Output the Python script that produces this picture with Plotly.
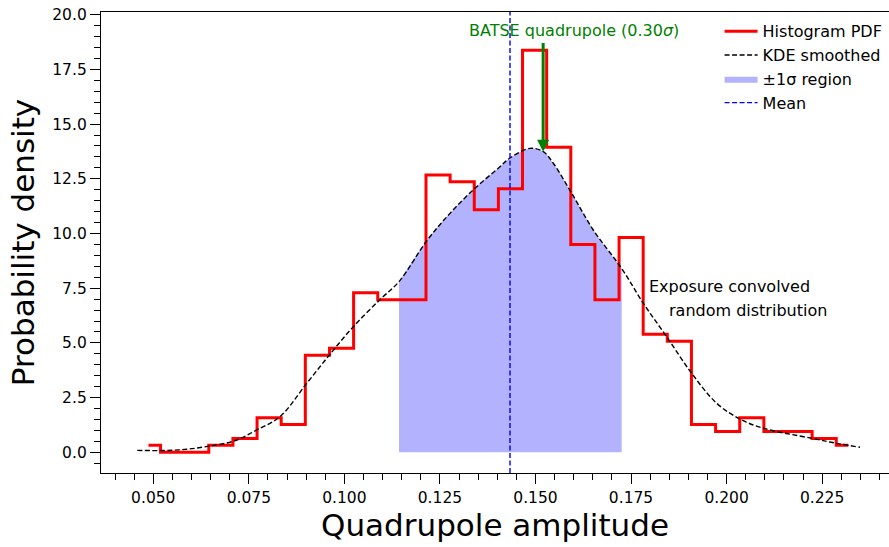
import plotly.graph_objects as go

# ---------------- data ----------------
hist_centers = [0.04874, 0.05505, 0.06137, 0.06768, 0.07400, 0.08031, 0.08662,
                0.09294, 0.09925, 0.10557, 0.11188, 0.11819, 0.12451, 0.13082,
                0.13714, 0.14345, 0.14976, 0.15608, 0.16239, 0.16871, 0.17502,
                0.18133, 0.18765, 0.19396, 0.20028, 0.20659, 0.21290, 0.21922,
                0.22553, 0.23185]
hist_density = [0.32, 0.0, 0.0, 0.32, 0.63, 1.58, 1.27, 4.44, 4.75, 7.29, 6.97,
                6.97, 12.67, 12.36, 11.09, 12.04, 18.37, 13.94, 9.50, 6.97, 9.82,
                5.39, 5.07, 1.27, 0.95, 1.58, 0.95, 0.95, 0.63, 0.32]

kde_x = [0.04581, 0.05262, 0.05874, 0.06484, 0.07119, 0.07705, 0.08315, 0.09014,
         0.09623, 0.10233, 0.10932, 0.11429, 0.12153, 0.12763, 0.13417, 0.14027,
         0.14333, 0.14856, 0.15204, 0.15466, 0.15947, 0.16512, 0.17255, 0.17821,
         0.18433, 0.19087, 0.19741, 0.20351, 0.20960, 0.22227, 0.22881, 0.23490]
kde_y = [0.09, 0.08, 0.14, 0.29, 0.52, 1.02, 1.63, 3.15, 4.48, 5.74, 6.98, 7.80,
         9.66, 10.92, 12.07, 12.98, 13.45, 13.89, 13.74, 13.21, 11.84, 10.16, 8.40,
         6.81, 5.28, 3.61, 2.24, 1.52, 1.10, 0.64, 0.41, 0.23]

mean_value = 0.14333
sigma_lo = 0.11429
sigma_hi = 0.17255

batse_x = 0.152
batse_tip_y = 13.74
batse_tail_y = 18.77

x_ticks = [0.050, 0.075, 0.100, 0.125, 0.150, 0.175, 0.200, 0.225]
y_ticks = [0.0, 2.5, 5.0, 7.5, 10.0, 12.5, 15.0, 17.5, 20.0]
X_RANGE = [0.03632, 0.24249]
Y_RANGE = [-0.946, 20.123]

FONT = "DejaVu Sans"

fig = go.Figure()

fill_x = [x for x in kde_x if sigma_lo <= x <= sigma_hi]
fill_y = [y for x, y in zip(kde_x, kde_y) if sigma_lo <= x <= sigma_hi]
fig.add_trace(go.Scatter(
    x=fill_x, y=fill_y, mode="lines", line_shape="spline",
    line=dict(width=0, color="rgba(0,0,255,0.3)"), fill="tozeroy",
    fillcolor="rgba(0,0,255,0.3)", name="±1σ region", legendrank=3))

fig.add_trace(go.Scatter(
    x=hist_centers, y=hist_density, mode="lines", line_shape="hvh",
    line=dict(color="#ff0000", width=3), name="Histogram PDF", legendrank=1))

fig.add_trace(go.Scatter(
    x=kde_x, y=kde_y, mode="lines", line_shape="spline",
    line=dict(color="black", width=1.4, dash="5px,2.5px"), name="KDE smoothed",
    legendrank=2))

fig.add_trace(go.Scatter(
    x=[mean_value, mean_value], y=Y_RANGE, mode="lines",
    line=dict(color="#0000ff", width=1.4, dash="5px,2.5px"), name="Mean",
    legendrank=4, cliponaxis=True))

# arrow
fig.add_annotation(x=batse_x, y=batse_tip_y, ax=batse_x, ay=batse_tail_y,
                   axref="x", ayref="y", xref="x", yref="y", text="",
                   showarrow=True, arrowhead=2, arrowsize=0.8, arrowwidth=3,
                   arrowcolor="green", standoff=0, startstandoff=0)
fig.add_annotation(x=0.1600, y=19.3, xref="x", yref="y",
                   text="BATSE quadrupole (0.30<i>σ</i>)", showarrow=False,
                   font=dict(family=FONT, size=16, color="green"))
fig.add_annotation(x=0.1793, y=7.58, xref="x", yref="y", xanchor="left",
                   text="Exposure convolved", showarrow=False,
                   font=dict(family=FONT, size=16, color="black"))
fig.add_annotation(x=0.1843, y=6.48, xref="x", yref="y", xanchor="left",
                   text="random distribution", showarrow=False,
                   font=dict(family=FONT, size=16, color="black"))

fig.update_layout(
    width=889, height=547,
    margin=dict(l=101, r=0, t=12, b=74),
    plot_bgcolor="white", paper_bgcolor="white",
    font=dict(family=FONT, color="black"),
    showlegend=True,
    legend=dict(x=0.785, y=0.995, xanchor="left", yanchor="top",
                font=dict(family=FONT, size=16), bgcolor="rgba(0,0,0,0)",
                traceorder="normal", itemwidth=33),
    xaxis=dict(range=X_RANGE, tickvals=x_ticks, tickformat=".3f",
               ticks="outside", ticklen=10, tickwidth=1.3, tickcolor="black",
               showline=True, linecolor="black", linewidth=1.3, mirror=True,
               showgrid=False, zeroline=False,
               tickfont=dict(family=FONT, size=15.5),
               minor=dict(dtick=0.005, tick0=0.0, ticks="outside", ticklen=6,
                          tickwidth=1.1, tickcolor="black", showgrid=False),
               title=dict(text="Quadrupole amplitude",
                          font=dict(family=FONT, size=31), standoff=8)),
    yaxis=dict(range=Y_RANGE, tickvals=y_ticks, tickformat=".1f",
               ticks="outside", ticklen=10, tickwidth=1.3, tickcolor="black",
               showline=True, linecolor="black", linewidth=1.3, mirror=False,
               showgrid=False, zeroline=False,
               tickfont=dict(family=FONT, size=15.5),
               minor=dict(dtick=0.5, tick0=0.0, ticks="outside", ticklen=6,
                          tickwidth=1.1, tickcolor="black", showgrid=False),
               title=dict(text="Probability density",
                          font=dict(family=FONT, size=31), standoff=8)),
)

fig.write_html("out.html")
